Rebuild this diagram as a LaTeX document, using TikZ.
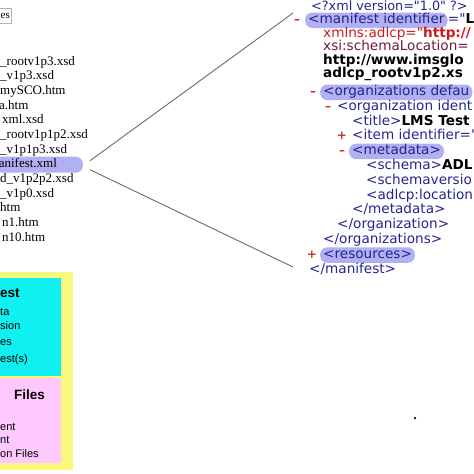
\documentclass[tikz,border=0pt]{standalone}
\usepackage{fontspec}
\setmainfont{Liberation Serif}
\newfontfamily\xmlfont{DejaVu Sans}
\newfontfamily\panelfont{Liberation Sans}
\usetikzlibrary{positioning}
\definecolor{TagBlue}{HTML}{24248F}
\definecolor{NsRed}{HTML}{CC1A1A}
\definecolor{AttrMaroon}{HTML}{6E1A3C}
\definecolor{SignRed}{HTML}{C83232}
\definecolor{HiliteBlue}{HTML}{B0B0F2}
\definecolor{LinkGray}{HTML}{6A6A6A}
\definecolor{PanelYellow}{HTML}{F8F87C}
\definecolor{PanelCyan}{HTML}{10F0F0}
\definecolor{PanelPink}{HTML}{FFC8FF}

\begin{document}
\begin{tikzpicture}[x=1pt,y=-1pt]
\tikzset{
  filename/.style={anchor=base west,inner sep=0pt,font=\fontsize{13}{15}\selectfont},
  filehilite/.style={filename,anchor=base east,fill=HiliteBlue,rounded corners=7pt,inner xsep=4pt,inner ysep=2pt,text width=80pt,align=left,text height=9pt,text depth=3pt},
  xmlline/.style={anchor=base west,inner sep=0pt,font=\xmlfont\fontsize{13.6}{15}\selectfont,text=TagBlue},
  xmlvalue/.style={xmlline,text=black,font=\xmlfont\bfseries\fontsize{13.6}{15}\selectfont},
  xmlsign/.style={anchor=base,inner sep=0pt,font=\xmlfont\bfseries\fontsize{12}{15}\selectfont,text=SignRed},
  hilite/.style={xmlline,fill=HiliteBlue,rounded corners=7pt,inner xsep=3pt,inner ysep=1.5pt,text height=9.5pt,text depth=3pt},
  boxtitle/.style={anchor=base west,inner sep=0pt,font=\panelfont\bfseries\fontsize{13.5}{15}\selectfont},
  boxtext/.style={anchor=base west,inner sep=0pt,font=\panelfont\fontsize{11}{13}\selectfont}
}
\useasboundingbox (0,0) rectangle (474,474);

% file list
\node[draw=gray!60,inner sep=1pt,minimum height=15pt,anchor=east,font=\fontsize{11}{12}\selectfont] (filesbtn) at (11,15.5) {es};
\node[filename] (f01) at (0,65) {\_rootv1p3.xsd};
\node[filename] (f02) at (0,79.7) {\_v1p3.xsd};
\node[filename] (f03) at (0,94.3) {mySCO.htm};
\node[filename] (f04) at (-1,109) {a.htm};
\node[filename] (f05) at (2,123.7) {xml.xsd};
\node[filename] (f06) at (0,138.3) {\_rootv1p1p2.xsd};
\node[filename] (f07) at (0,153) {\_v1p1p3.xsd};
\node[filehilite] (manifestfile) at (83,167.7) {anifest.xml};
\node[filename] (f09) at (0,182.3) {d\_v1p2p2.xsd};
\node[filename] (f10) at (0,197) {\_v1p0.xsd};
\node[filename] (f11) at (0,211.7) {htm};
\node[filename] (f12) at (2,226.3) {n1.htm};
\node[filename] (f13) at (2,241) {n10.htm};

% package panels
\fill[PanelYellow] (0,272) rectangle (73,470);
\fill[PanelCyan] (0,278) rectangle (61,376);
\fill[PanelPink] (0,378) rectangle (61,463);
\node[boxtitle] (cyantitle) at (0,297) {est};
\node[boxtext] (cyan1) at (0,315) {ta};
\node[boxtext] (cyan2) at (0,329) {sion};
\node[boxtext] (cyan3) at (0,345) {es};
\node[boxtext] (cyan4) at (0,362) {est(s)};
\node[boxtitle] (pinktitle) at (14,399) {Files};
\node[boxtext] (pink1) at (0,430) {ent};
\node[boxtext] (pink2) at (0,443.5) {nt};
\node[boxtext] (pink3) at (0,457) {on Files};

% manifest contents
\node[xmlline,font=\xmlfont\fontsize{12.8}{15}\selectfont] (xmldecl) at (311,10.5) {<?xml version="1.0" ?>};
\node[xmlsign] (s1) at (297,23.5) {–};
\node[hilite] (manifesttag) at (305,23.5) {<manifest identifier};
\node[xmlline] (manifestid) at (manifesttag.base east) {="\textcolor{black}{\textbf{LM}}};
\node[xmlline,text=NsRed] (nsattr) at (323,37) {xmlns:adlcp="\textbf{http://}};
\node[xmlline,text=AttrMaroon] (xsiattr) at (323,50.5) {xsi:schemaLocation=};
\node[xmlvalue] (xsival1) at (323,64) {http://www.imsglo};
\node[xmlvalue] (xsival2) at (323,77.5) {adlcp\_rootv1p2.xs};
\node[xmlsign] (s2) at (313,95.5) {–};
\node[hilite] (orgstag) at (320,95.5) {<organizations defau};
\node[xmlsign] (s3) at (328,110.3) {–};
\node[xmlline] (orgtag) at (337,110.3) {<organization ident};
\node[xmlline] (titletag) at (352,125.1) {<title>\textcolor{black}{\textbf{LMS Test}}};
\node[xmlsign] (s4) at (342,139.9) {+};
\node[xmlline] (itemtag) at (352,139.9) {<item identifier="};
\node[xmlsign] (s5) at (342,154.7) {–};
\node[hilite] (metatag) at (349,154.7) {<metadata>};
\node[xmlline] (schematag) at (366,169.5) {<schema>\textcolor{black}{\textbf{ADL}}};
\node[xmlline] (versiontag) at (366,184.3) {<schemaversio};
\node[xmlline] (locationtag) at (366,199.1) {<adlcp:location};
\node[xmlline] (metaend) at (352,213.9) {</metadata>};
\node[xmlline] (orgend) at (337,228.7) {</organization>};
\node[xmlline] (orgsend) at (323,243.5) {</organizations>};
\node[xmlsign] (s6) at (312,258.3) {+};
\node[hilite] (restag) at (320,258.3) {<resources>};
\node[xmlline] (manifestend) at (309,273.1) {</manifest>};

% zoom lines
\coordinate (xmltop) at (293,13);
\coordinate (xmlbot) at (293,267);
\draw[LinkGray,line width=0.9pt] ([xshift=7pt,yshift=4pt]manifestfile.east) -- (xmltop);
\draw[LinkGray,line width=0.9pt] ([xshift=7pt,yshift=-5pt]manifestfile.east) -- (xmlbot);

\node[circle,fill=black,inner sep=0pt,minimum size=2.5pt] (dot) at (415,418) {};
\end{tikzpicture}
\end{document}
